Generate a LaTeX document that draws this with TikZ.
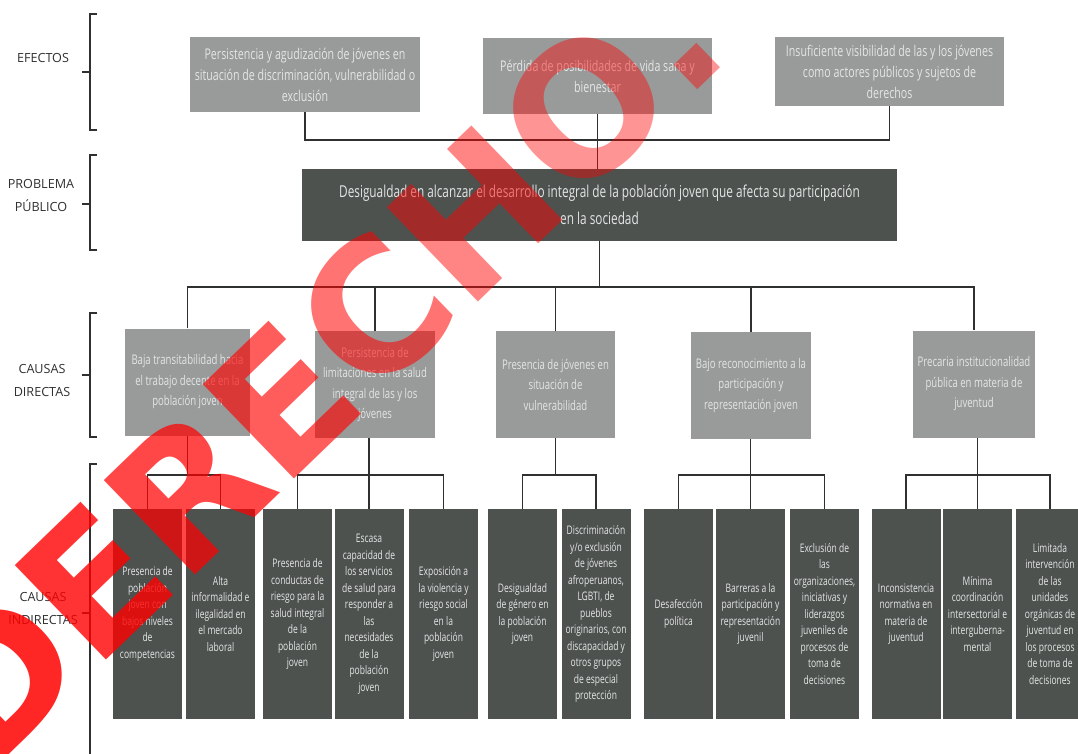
\documentclass[tikz,border=0pt]{standalone}
\usepackage{fontspec}
\setmainfont{Open Sans}[FakeStretch=0.72]
\newfontfamily\etiqfont{Open Sans}
\newfontfamily\marcafont{DejaVu Sans}
\usetikzlibrary{calc}

\definecolor{grisclaro}{HTML}{999B9A}
\definecolor{grisoscuro}{HTML}{4D524F}
\definecolor{textoclaro}{HTML}{E4E6E5}
\definecolor{lineagris}{HTML}{2F3130}

\tikzset{
  efecto/.style={fill=grisclaro, text=textoclaro, inner sep=0pt, align=center,
    font=\fontsize{14.8}{21}\selectfont},
  problema/.style={fill=grisoscuro, text=textoclaro, inner sep=0pt, align=center,
    minimum width=595, minimum height=72, font=\fontsize{16.4}{27}\selectfont},
  directa/.style={fill=grisclaro, text=textoclaro, inner sep=0pt, align=center,
    minimum height=107, font=\fontsize{13.3}{20.5}\selectfont},
  indirecta/.style={fill=grisoscuro, text=textoclaro, inner sep=0pt, align=center,
    minimum width=69, minimum height=210, font=\fontsize{11.8}{16.5}\selectfont},
  etiqueta/.style={text=lineagris, align=center, inner sep=0pt,
    font=\etiqfont\fontsize{12.6}{23}\selectfont},
  rama/.style={draw=lineagris, line width=1.4pt},
  corchete/.style={draw=lineagris, line width=1.8pt},
  marca/.style={text=red, inner sep=0pt,
    font=\marcafont\bfseries\fontsize{180}{180}\selectfont}
}

% bracket at the left: top, bottom, middle
\def\llave(#1:#2:#3){\draw[corchete] (97,#1) -- (90,#1) -- (90,#2) -- (97,#2); \draw[corchete] (82,#3) -- (90,#3);}
% one letter of the stamp with its own opacity
\def\letra#1#2{\pgfsetfillopacity{#1}#2}

\begin{document}
\begin{tikzpicture}[x=1pt,y=-1pt]
  \useasboundingbox (0,0) rectangle (1078,753);
  \fill[white] (0,0) rectangle (1078,753);
  \clip (0,0) rectangle (1078,753);

  %%%%% niveles %%%%%
  \node[etiqueta] (lefectos) at (43,58) {EFECTOS};
  \node[etiqueta] (lproblema) at (41,195) {PROBLEMA\\PÚBLICO};
  \node[etiqueta] (ldirectas) at (42,380) {CAUSAS\\DIRECTAS};
  \node[etiqueta] (lindirectas) at (43,608) {CAUSAS\\INDIRECTAS};

  \llave(14:130:72)
  \llave(155:250:204)
  \llave(313:437:375)
  \llave(464:760:613)

  %%%%% efectos %%%%%
  \node[efecto, minimum width=230, minimum height=75] (e1) at (305,74.5)
    {Persistencia y agudización de jóvenes en\\situación de discriminación, vulnerabilidad o\\exclusión};
  \node[efecto, minimum width=229, minimum height=76] (e2) at (597.5,76)
    {Pérdida de posibilidades de vida sana y\\bienestar};
  \node[efecto, minimum width=229, minimum height=69] (e3) at (889.5,71.5)
    {Insuficiente visibilidad de las y los jóvenes\\como actores públicos y sujetos de\\derechos};

  %%%%% problema %%%%%
  \node[problema] (p) at (599.5,205)
    {Desigualdad en alcanzar el desarrollo integral de la población joven que afecta su participación\\en la sociedad};

  %%%%% causas directas %%%%%
  \node[directa, minimum width=125] (d1) at (187.5,382)
    {Baja transitabilidad hacia\\el trabajo decente en la\\población joven};
  \node[directa, minimum width=120] (d2) at (375,384.5)
    {Persistencia de\\limitaciones en la salud\\integral de las y los\\jóvenes};
  \node[directa, minimum width=119] (d3) at (555.5,384.5)
    {Presencia de jóvenes en\\situación de\\vulnerabilidad};
  \node[directa, minimum width=120] (d4) at (751,385.5)
    {Bajo reconocimiento a la\\participación y\\representación joven};
  \node[directa, minimum width=122] (d5) at (974,384)
    {Precaria institucionalidad\\pública en materia de\\juventud};

  %%%%% causas indirectas %%%%%
  \node[indirecta] (i1) at (147.5,614) {Presencia de\\población\\joven con\\bajos niveles\\de\\competencias};
  \node[indirecta] (i2) at (220.5,614) {Alta\\informalidad e\\ilegalidad en\\el mercado\\laboral};
  \node[indirecta] (i3) at (297.5,614) {Presencia de\\conductas de\\riesgo para la\\salud integral\\de la\\población\\joven};
  \node[indirecta] (i4) at (369,614) {Escasa\\capacidad de\\los servicios\\de salud para\\responder a\\las\\necesidades\\de la\\población\\joven};
  \node[indirecta] (i5) at (443.5,614) {Exposición a\\la violencia y\\riesgo social\\en la\\población\\joven};
  \node[indirecta] (i6) at (522.5,614) {Desigualdad\\de género en\\la población\\joven};
  \node[indirecta] (i7) at (596,614) {Discriminación\\y/o exclusión\\de jóvenes\\afroperuanos,\\LGBTI, de\\pueblos\\originarios, con\\discapacidad y\\otros grupos\\de especial\\protección};
  \node[indirecta] (i8) at (678.5,614) {Desafección\\política};
  \node[indirecta] (i9) at (750.5,614) {Barreras a la\\participación y\\representación\\juvenil};
  \node[indirecta] (i10) at (824.5,614) {Exclusión de\\las\\organizaciones,\\iniciativas y\\liderazgos\\juveniles de\\procesos de\\toma de\\decisiones};
  \node[indirecta] (i11) at (906,614) {Inconsistencia\\normativa en\\materia de\\juventud};
  \node[indirecta] (i12) at (977.5,614) {Mínima\\coordinación\\intersectorial e\\intergu\-berna-\\mental};
  \node[indirecta] (i13) at (1050,614) {Limitada\\intervención\\de las\\unidades\\orgánicas de\\juventud en\\los procesos\\de toma de\\decisiones};

  %%%%% ramas %%%%%
  \coordinate (nivelA) at (0,140);
  \coordinate (nivelB) at (0,287);
  \coordinate (nivelC) at (0,475);

  \draw[rama] (e1.south) -- (e1.south |- nivelA) -| (e3.south);
  \draw[rama] (e2.south) -- (e2.south |- p.north);

  \draw[rama] (p.south) -- (p.south |- nivelB);
  \draw[rama] (d1.north) -- (d1.north |- nivelB) -| (d5.north);
  \draw[rama] (d2.north) -- (d2.north |- nivelB);
  \draw[rama] (d3.north) -- (d3.north |- nivelB);
  \draw[rama] (d4.north) -- (d4.north |- nivelB);

  \draw[rama] (d1.south) -- (d1.south |- nivelC);
  \draw[rama] (i1.north) -- (i1.north |- nivelC) -| (i2.north);
  \draw[rama] (i3.north) -- (i3.north |- nivelC) -| (i5.north);
  \draw[rama] (i4.north) -- (i4.north |- d2.south);
  \draw[rama] (d3.south) -- (d3.south |- nivelC);
  \draw[rama] (i6.north) -- (i6.north |- nivelC) -| (i7.north);
  \draw[rama] (i8.north) -- (i8.north |- nivelC) -| (i10.north);
  \draw[rama] (i9.north) -- (i9.north |- d4.south);
  \draw[rama] (i11.north) -- (i11.north |- nivelC) -| (i13.north);
  \draw[rama] (i12.north) -- (i12.north |- d5.south);

  %%%%% sello %%%%%
  \node[marca, rotate=44] (sello) at (315,368)
    {\letra{0.85}{D}\letra{0.8}{E}\letra{0.72}{R}\letra{0.64}{E}\letra{0.55}{C}\letra{0.48}{H}\letra{0.42}{O}\letra{0.42}{.}};
\end{tikzpicture}
\end{document}
